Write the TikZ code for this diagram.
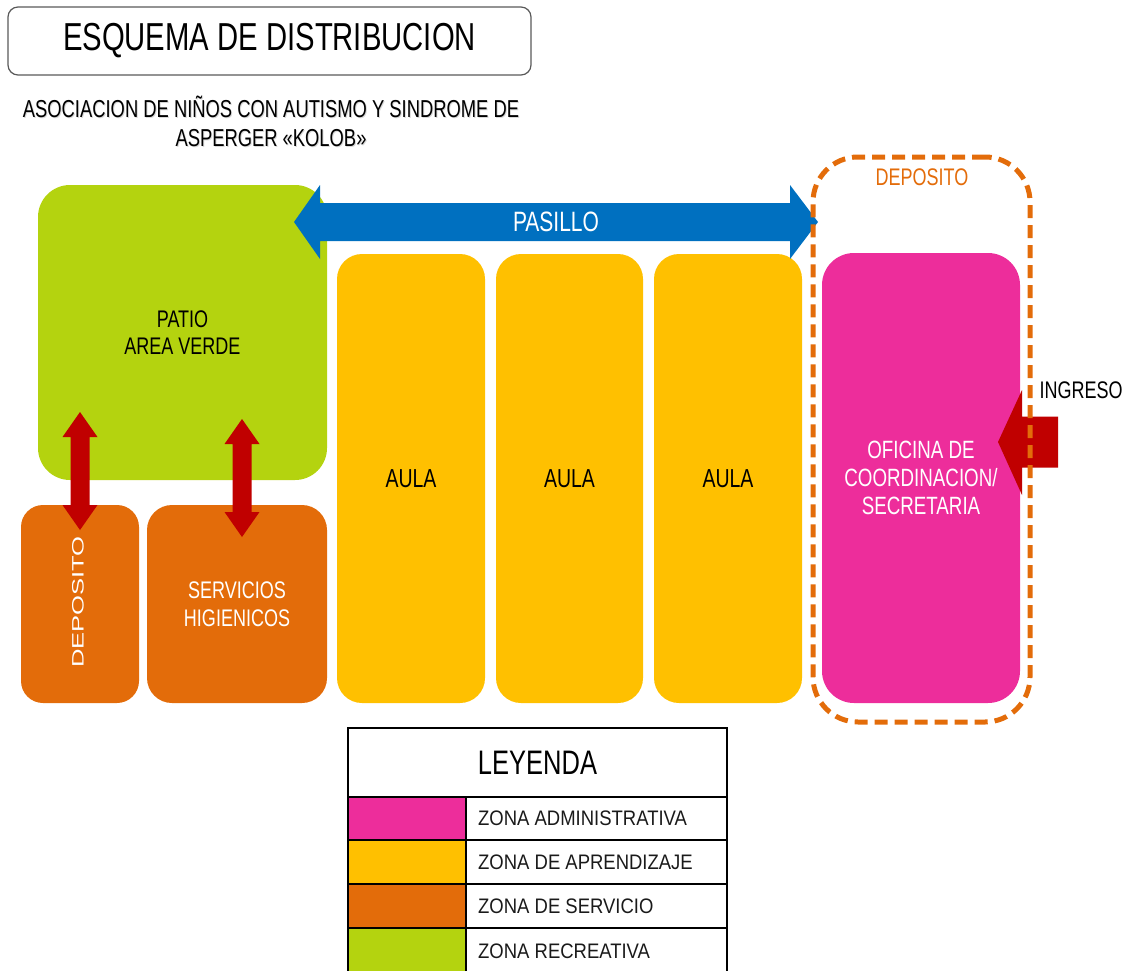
\documentclass[tikz,border=0pt]{standalone}
\usepackage{fontspec}
\setmainfont{Liberation Sans}
\newfontfamily\nf{Liberation Sans}[FakeStretch=0.75]
\newfontfamily\lf{Liberation Sans}[FakeStretch=0.88]
\newfontfamily\wf{Liberation Sans}[FakeStretch=1.55]
\usetikzlibrary{calc}
\definecolor{zgreen}{HTML}{B4D30F}
\definecolor{zyellow}{HTML}{FFC000}
\definecolor{zorange}{HTML}{E36C0A}
\definecolor{zpink}{HTML}{ED2D9B}
\definecolor{zblue}{HTML}{0070C0}
\definecolor{zred}{HTML}{C00000}
\definecolor{ztext}{HTML}{1A1A1A}
\newcommand\tsize[2]{\fontsize{#1}{#2}\selectfont}
% vertical double arrow between two named points (top tip, bottom tip)
\newcommand\vdarrow[2]{%
  \fill[zred] (#1) -- ++(17.5,25) -- ++(-8,0) -- ($(#2)+(9.5,-25)$) -- ++(8,0)
    -- (#2) -- ++(-17.5,-25) -- ++(8,0) -- ($(#1)+(-9.5,25)$) -- ++(-8,0) -- cycle;}
\begin{document}
\begin{tikzpicture}[x=1pt,y=-1pt,
  room/.style={draw=none, inner sep=0pt, outer sep=0pt, align=center},
  cell/.style={draw=black, line width=1.8pt, inner sep=0pt, outer sep=0pt},
  legtext/.style={anchor=west, inner sep=0pt, text=ztext, font=\lf\tsize{21}{24}}]
\useasboundingbox (0,0) rectangle (1137,971);

% heading
\node[draw=black!65, line width=1.2pt, rounded corners=10pt, minimum width=523pt,
  minimum height=68pt, inner sep=0pt, font=\nf\tsize{39}{44}] (title) at (269.5,41) {ESQUEMA DE DISTRIBUCION};
\node[align=center, text=black!15, font=\nf\tsize{24.5}{29}] (subshadow) at (272,122.5) {ASOCIACION DE NIÑOS CON AUTISMO Y SINDROME DE\\ASPERGER «KOLOB»};
\node[align=center, font=\nf\tsize{24.5}{29}] (subtitle) at (271,121.5) {ASOCIACION DE NIÑOS CON AUTISMO Y SINDROME DE\\ASPERGER «KOLOB»};

% rooms
\node[room, fill=zgreen, rounded corners=32pt, minimum width=289pt, minimum height=295pt,
  font=\nf\tsize{24}{27}] (patio) at (182.5,332.5) {PATIO\\AREA VERDE};
\node[room, fill=zorange, rounded corners=22pt, minimum width=118pt, minimum height=198pt] (deposito) at (80,604) {};
\node[rotate=90, inner sep=0pt, text=white, font=\wf\tsize{16.5}{18}] (deplabel) at (78,602) {DEPOSITO};
\node[room, fill=zorange, rounded corners=25pt, minimum width=180pt, minimum height=198pt,
  text=white, font=\nf\tsize{24}{28}] (servicios) at (237,604) {SERVICIOS\\HIGIENICOS};
\node[room, fill=zyellow, rounded corners=25pt, minimum width=148pt, minimum height=449pt,
  font=\nf\tsize{26}{28}] (aula1) at (411,478.5) {AULA};
\node[room, fill=zyellow, rounded corners=25pt, minimum width=147pt, minimum height=449pt,
  font=\nf\tsize{26}{28}] (aula2) at (569.5,478.5) {AULA};
\node[room, fill=zyellow, rounded corners=25pt, minimum width=148pt, minimum height=449pt,
  font=\nf\tsize{26}{28}] (aula3) at (728,478.5) {AULA};
\node[room, fill=zpink, rounded corners=32pt, minimum width=198pt, minimum height=450pt,
  text=white, font=\nf\tsize{25}{28}] (oficina) at (921,478) {OFICINA DE\\COORDINACION/\\SECRETARIA};

% corridor
\coordinate (pasL) at (294,222);
\coordinate (pasR) at (818,222);
\fill[zblue] (pasL) -- ++(26,-37) -- ++(0,18) -- ($(pasR)+(-28,-19)$) -- ++(0,-18) -- (pasR)
  -- ++(-28,37) -- ++(0,-18) -- ($(pasL)+(26,19)$) -- ++(0,18) -- cycle;
\node[text=white, inner sep=0pt, font=\nf\tsize{28}{30}] (pasillo) at ($(pasL)!0.5!(pasR)$) {PASILLO};

% links between patio and service rooms
\coordinate (a1t) at (80,412);
\coordinate (a1b) at (80,530);
\coordinate (a2t) at (242,419);
\coordinate (a2b) at (242,537);
\vdarrow{a1t}{a1b}
\vdarrow{a2t}{a2b}

% entrance
\coordinate (ingtip) at (998,442);
\coordinate (ingtail) at (1058,442);
\fill[zred] (ingtip) -- ++(24,-52) -- ++(0,26.5) -- ($(ingtail)+(0,-25.5)$) -- ++(0,51)
  -- ($(ingtip)+(24,25.5)$) -- ++(0,27.5) -- cycle;
\node[inner sep=0pt, font=\nf\tsize{24}{26}] (ingreso) at (1081,390) {INGRESO};

% storage boundary around the office
\node[draw=zorange, line width=5pt, dash pattern=on 13pt off 7pt, rounded corners=45pt,
  minimum width=217pt, minimum height=565pt, inner sep=0pt] (depbound) at (921.5,439.5) {};
\node[text=zorange, inner sep=0pt, font=\nf\tsize{24}{26}] (deptop) at (922,177) {DEPOSITO};

% legend
\node[cell, minimum width=379pt, minimum height=69pt, font=\nf\tsize{34}{36}] (leyenda) at (537.5,762.5) {LEYENDA};
\node[cell, fill=zpink, minimum width=118pt, minimum height=43pt] (sw1) at (407,818.5) {};
\node[cell, minimum width=261pt, minimum height=43pt] (tx1) at (596.5,818.5) {};
\node[cell, fill=zyellow, minimum width=118pt, minimum height=44pt] (sw2) at (407,862) {};
\node[cell, minimum width=261pt, minimum height=44pt] (tx2) at (596.5,862) {};
\node[cell, fill=zorange, minimum width=118pt, minimum height=44pt] (sw3) at (407,906) {};
\node[cell, minimum width=261pt, minimum height=44pt] (tx3) at (596.5,906) {};
\node[cell, fill=zgreen, minimum width=118pt, minimum height=48pt] (sw4) at (407,952) {};
\node[cell, minimum width=261pt, minimum height=48pt] (tx4) at (596.5,952) {};
\node[legtext] (lb1) at (478,818.5) {ZONA ADMINISTRATIVA};
\node[legtext] (lb2) at (478,862) {ZONA DE APRENDIZAJE};
\node[legtext] (lb3) at (478,906) {ZONA DE SERVICIO};
\node[legtext] (lb4) at (478,951) {ZONA RECREATIVA};
\end{tikzpicture}
\end{document}
